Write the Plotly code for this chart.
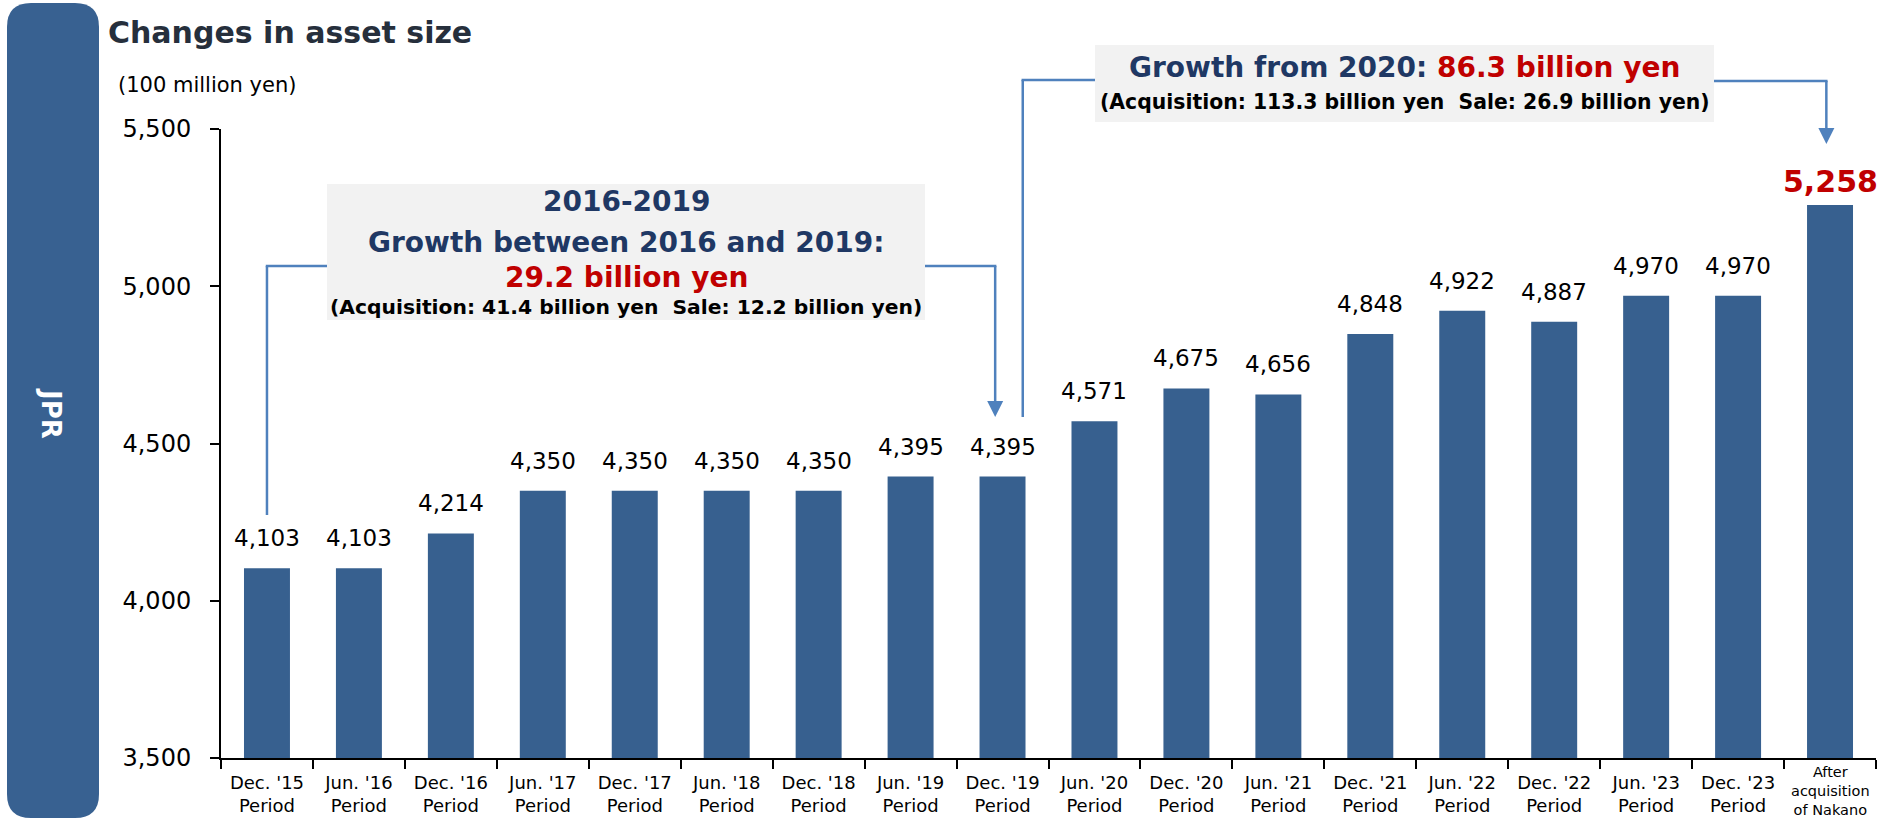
import plotly.graph_objects as go

# ---- data -----------------------------------------------------------------
categories = [
    "Dec. '15<br>Period", "Jun. '16<br>Period", "Dec. '16<br>Period",
    "Jun. '17<br>Period", "Dec. '17<br>Period", "Jun. '18<br>Period",
    "Dec. '18<br>Period", "Jun. '19<br>Period", "Dec. '19<br>Period",
    "Jun. '20<br>Period", "Dec. '20<br>Period", "Jun. '21<br>Period",
    "Dec. '21<br>Period", "Jun. '22<br>Period", "Dec. '22<br>Period",
    "Jun. '23<br>Period", "Dec. '23<br>Period", "After<br>acquisition<br>of Nakano",
]
asset_size = [4103, 4103, 4214, 4350, 4350, 4350, 4350, 4395, 4395,
              4571, 4675, 4656, 4848, 4922, 4887, 4970, 4970, 5258]
y_ticks = [3500, 4000, 4500, 5000, 5500]

title_text = "Changes in asset size"
unit_text = "(100 million yen)"
side_label = "JPR"
box1_lines = ["2016-2019", "Growth between 2016 and 2019:", "29.2 billion yen",
              "(Acquisition: 41.4 billion yen&nbsp;&nbsp;Sale: 12.2 billion yen)"]
box2_head = ("Growth from 2020: ", "86.3 billion yen")
box2_sub = "(Acquisition: 113.3 billion yen&nbsp;&nbsp;Sale: 26.9 billion yen)"

# ---- styling --------------------------------------------------------------
BAR = "#37608f"
SIDE = "#386191"
NAVY = "#1f3864"
RED = "#c00000"
LINK = "#4f81bd"
BOXBG = "#f2f2f2"
FONT = "DejaVu Sans"

W, H = 1895, 822
ML, MR, MT, MB = 221, 19, 129, 64
PW, PH = W - ML - MR, H - MT - MB
N = len(categories)


def px(x):
    """pixel column -> paper x"""
    return (x - ML) / PW


def py(y):
    """pixel row -> paper y"""
    return (H - MB - y) / PH


def bar_px(i, offset=0.0):
    """pixel column of a bar centre (offset in category widths)"""
    return ML + (i + 0.5 + offset) * PW / N


fig = go.Figure()
fig.add_trace(go.Bar(
    x=categories, y=asset_size, width=0.5,
    marker=dict(color=BAR, line=dict(width=0)),
    hoverinfo="skip",
))

shapes = []
annotations = []

# left sidebar with rounded corners
x0, x1, y0, y1, r = 7, 99, 3, 818, 24
pts = (f"M {px(x0 + r)},{py(y0)} L {px(x1 - r)},{py(y0)} "
       f"Q {px(x1)},{py(y0)} {px(x1)},{py(y0 + r)} "
       f"L {px(x1)},{py(y1 - r)} Q {px(x1)},{py(y1)} {px(x1 - r)},{py(y1)} "
       f"L {px(x0 + r)},{py(y1)} Q {px(x0)},{py(y1)} {px(x0)},{py(y1 - r)} "
       f"L {px(x0)},{py(y0 + r)} Q {px(x0)},{py(y0)} {px(x0 + r)},{py(y0)} Z")
shapes.append(dict(type="path", path=pts, xref="paper", yref="paper",
                   fillcolor=SIDE, line=dict(width=0), layer="below"))


def seg(xa, ya, xb, yb):
    shapes.append(dict(type="line", xref="paper", yref="paper",
                       x0=px(xa), y0=py(ya), x1=px(xb), y1=py(yb),
                       line=dict(color=LINK, width=2.5)))


def arrow_head(xt, yt, length=16, half=8):
    path = (f"M {px(xt)},{py(yt)} L {px(xt - half)},{py(yt - length)} "
            f"L {px(xt + half)},{py(yt - length)} Z")
    shapes.append(dict(type="path", path=path, xref="paper", yref="paper",
                       fillcolor=LINK, line=dict(width=0)))


# connectors for the 2016-2019 callout
bx1 = (327, 925, 184, 320)
xa = bar_px(0)
xb = bar_px(8, -0.08)
seg(xa, 515, xa, 266)
seg(xa - 1.2, 266, bx1[0] + 10, 266)
seg(bx1[1] - 10, 266, xb + 1.2, 266)
seg(xb, 266, xb, 402)
arrow_head(xb, 417)

# connectors for the growth-from-2020 callout
bx2 = (1095, 1714, 45, 122)
xc = bar_px(8, 0.22)
xd = bar_px(17, -0.04)
seg(xc, 417, xc, 80)
seg(xc - 1.2, 80, bx2[0] + 10, 80)
seg(bx2[1] - 10, 81, xd + 1.2, 81)
seg(xd, 81, xd, 129)
arrow_head(xd, 144)

# callout boxes
for (l, rgt, t, b) in (bx1, bx2):
    shapes.append(dict(type="rect", xref="paper", yref="paper",
                       x0=px(l), x1=px(rgt), y0=py(b), y1=py(t),
                       fillcolor=BOXBG, line=dict(width=0)))


def text(x, y, s, size, color="black", bold=False, family=FONT, xanchor="center",
         angle=0):
    annotations.append(dict(
        x=px(x), y=py(y), xref="paper", yref="paper", text=f"<b>{s}</b>" if bold else s,
        showarrow=False, xanchor=xanchor, yanchor="middle", textangle=angle,
        font=dict(family=family, size=size, color=color)))


cx1 = (bx1[0] + bx1[1]) / 2
text(cx1, 201, box1_lines[0], 28, NAVY, True)
text(cx1, 242, box1_lines[1], 28, NAVY, True)
text(cx1, 277, box1_lines[2], 28, RED, True)
text(cx1, 307, box1_lines[3], 20.3, "black", True)

cx2 = (bx2[0] + bx2[1]) / 2
text(cx2, 68, f"{box2_head[0]}<span style='color:{RED}'>{box2_head[1]}</span>",
     28, NAVY, True)
text(cx2, 102, box2_sub, 20.4, "black", True)

# headings and side label
text(106, 33, title_text, 30, "#262f3c", True, xanchor="left")
text(116, 85, unit_text, 21, "black", False, xanchor="left")
text(51, 413, side_label, 26, "white", True, angle=90)

# value labels above the bars
for i, (c, v) in enumerate(zip(categories, asset_size)):
    last = i == N - 1
    annotations.append(dict(
        x=c, y=v, xref="x", yref="y", showarrow=False,
        text=f"<b>{v:,}</b>" if last else f"{v:,}",
        yanchor="middle", yshift=24 if last else 30,
        font=dict(family=FONT, size=30 if last else 23,
                  color=RED if last else "black")))

# three-line label of the final category
annotations.append(dict(
    x=categories[-1], y=0, xref="x", yref="paper", showarrow=False,
    text=categories[-1], yanchor="middle", yshift=-33,
    font=dict(family=FONT, size=14.5, color="black")))

fig.update_layout(
    width=W, height=H,
    margin=dict(l=ML, r=MR, t=MT, b=MB, pad=0, autoexpand=False),
    paper_bgcolor="white", plot_bgcolor="white",
    showlegend=False, bargap=0.5,
    shapes=shapes, annotations=annotations,
    xaxis=dict(
        type="category", tickmode="array", tickvals=categories,
        ticktext=categories[:-1] + [""], automargin=False,
        showline=True, linecolor="black", linewidth=2,
        ticks="outside", ticklen=9, tickwidth=2, tickcolor="black",
        tickson="boundaries", showgrid=False, zeroline=False,
        ticklabelstandoff=7,
        tickfont=dict(family=FONT, size=18, color="black"),
        range=[-0.5, N - 0.5], fixedrange=True,
    ),
    yaxis=dict(
        range=[3500, 5500], tickvals=y_ticks, tickformat=",", automargin=False,
        showline=True, linecolor="black", linewidth=2,
        ticks="outside", ticklen=9, tickwidth=2, tickcolor="black",
        showgrid=False, zeroline=False, ticklabelstandoff=14,
        tickfont=dict(family=FONT, size=24, color="black"), fixedrange=True,
    ),
)

fig.write_html("out.html", config={"displayModeBar": False})
